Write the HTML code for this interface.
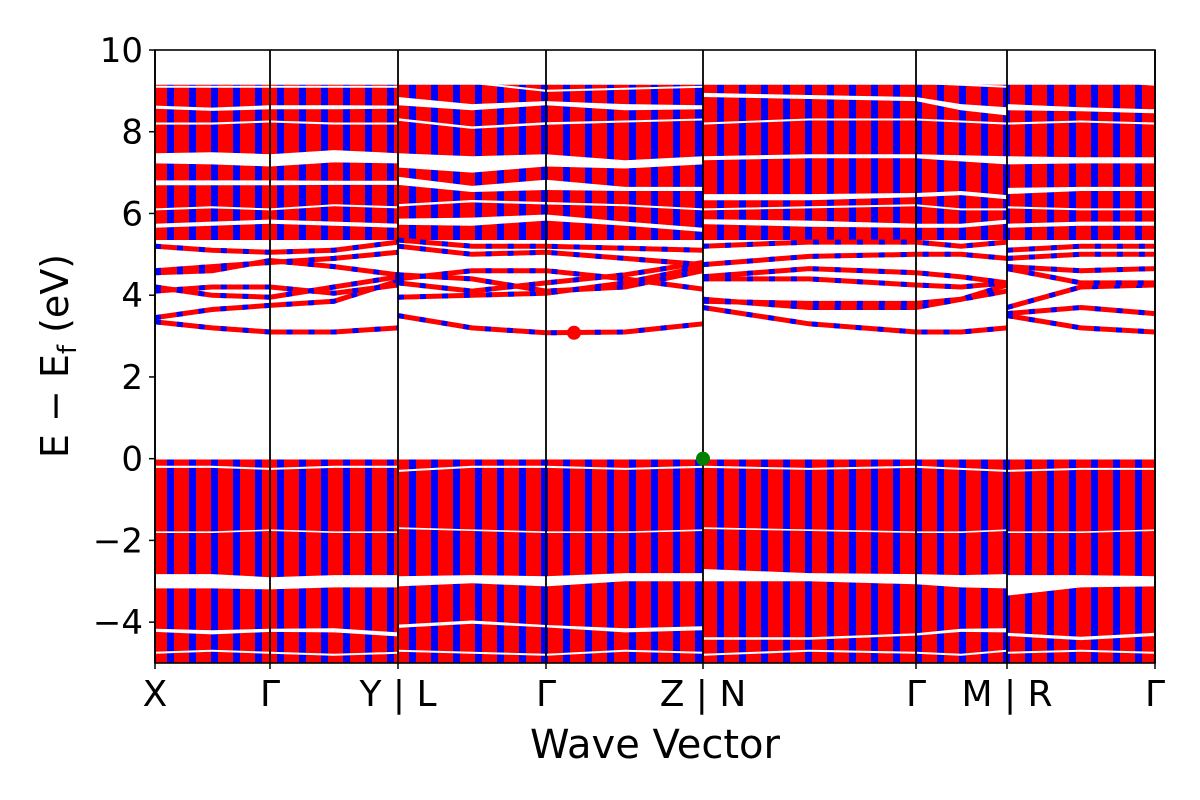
<!DOCTYPE html>
<html><head><meta charset="utf-8"><style>
html,body{margin:0;padding:0;background:#fff;width:1200px;height:800px;overflow:hidden}
svg text{font-family:"DejaVu Sans","Liberation Sans",sans-serif;fill:#000}
</style></head><body>
<svg id="chart" width="1200" height="800" viewBox="0 0 1200 800" xmlns="http://www.w3.org/2000/svg">
<defs>
<pattern id="stripes" patternUnits="userSpaceOnUse" x="155" y="0" width="22" height="10">
<rect x="0" y="0" width="22" height="10" fill="#ff0000"/>
<rect x="12" y="0" width="7" height="10" fill="#0000ff"/>
</pattern>
<clipPath id="plotclip"><rect x="155" y="50" width="1000" height="613"/></clipPath>
</defs>
<g id="plot" clip-path="url(#plotclip)"></g>
<g id="axes"></g>
</svg>
<script>
// ---- data ----
const tickLabels = ["X","Γ","Y | L","Γ","Z | N","Γ","M | R","Γ"];
const tickK = [0,115,243,391,548,761,852,1000];
const kSamples = [0,57,115,179,243, 243,317,391,470,548, 548,654,761,806,852, 852,926,1000];
const segStarts = [0,5,10,15];
const yTicks = [-4,-2,0,2,4,6,8,10];
const denseBlocks = [[-5,-0.02],[5.35,9.15]];
const bands = [
 [3.35,3.2,3.1,3.1,3.2, 3.5,3.2,3.08,3.1,3.3, 3.7,3.3,3.1,3.1,3.2, 3.5,3.2,3.1],
 [3.45,3.65,3.75,3.85,4.35, 3.95,4.0,4.05,4.3,4.7, 3.85,3.8,3.8,3.9,4.1, 3.55,3.7,3.55],
 [4.1,4.2,4.2,4.05,4.25, 4.3,4.1,4.3,4.5,4.8, 3.9,3.7,3.7,3.9,4.25, 3.7,4.2,4.25],
 [4.2,4.0,3.95,4.2,4.45, 4.5,4.4,4.1,4.2,4.6, 4.4,4.4,4.25,4.2,4.3, 4.65,4.3,4.3],
 [4.55,4.6,4.85,4.7,4.5, 4.4,4.6,4.6,4.4,4.15, 4.45,4.65,4.55,4.45,4.3, 4.7,4.6,4.65],
 [4.6,4.7,4.8,4.9,5.05, 5.2,5.0,5.05,4.9,4.75, 4.75,4.95,5.0,5.0,4.9, 4.9,5.0,5.0],
 [5.2,5.1,5.05,5.1,5.3, 5.35,5.2,5.2,5.15,5.1, 5.2,5.3,5.3,5.2,5.3, 5.1,5.2,5.2]
];
const gaps = [
 {e:[7.35,7.35,7.3,7.4,7.35, 7.3,7.2,7.3,7.2,7.3, 7.35,7.4,7.4,7.35,7.3, 7.3,7.3,7.3], w:[0.25,0.3,0.3,0.3,0.25, 0.35,0.4,0.3,0.2,0.2, 0.1,0.1,0.1,0.15,0.2, 0.2,0.15,0.15]},
 {e:[6.75,6.75,6.75,6.75,6.75, 6.8,6.6,6.7,6.6,6.6, 6.4,6.4,6.45,6.5,6.4, 6.55,6.6,6.6], w:[0.12,0.12,0.12,0.1,0.1, 0.2,0.15,0.25,0.1,0.1, 0.15,0.15,0.1,0.1,0.1, 0.15,0.1,0.1]},
 {e:[5.7,5.75,5.8,5.75,5.7, 5.8,5.8,5.9,5.75,5.6, 5.8,5.75,5.7,5.7,5.8, 5.7,5.75,5.75], w:[0.1,0.1,0.1,0.1,0.1, 0.15,0.2,0.15,0.1,0.1, 0.12,0.15,0.1,0.1,0.1, 0.1,0.1,0.1]},
 {e:[8.6,8.55,8.6,8.6,8.6, 8.75,8.6,8.7,8.6,8.6, 8.9,8.85,8.8,8.6,8.5, 8.6,8.55,8.5], w:[0.08,0.08,0.1,0.1,0.08, 0.2,0.15,0.1,0.15,0.1, 0.1,0.1,0.1,0.15,0.2, 0.15,0.1,0.1]},
 {e:[9.1,9.1,9.1,9.1,9.1, 9.28,9.2,9.0,9.05,9.1, 9.2,9.2,9.2,9.15,9.1, 9.2,9.28,9.15], w:[0.05,0.05,0.05,0.05,0.05, 0.05,0.05,0.05,0.05,0.05, 0.05,0.05,0.05,0.05,0.05, 0.05,0.05,0.05]},
 {e:[6.1,6.15,6.1,6.2,6.15, 6.2,6.3,6.25,6.2,6.1, 6.1,6.15,6.2,6.1,6.1, 6.15,6.1,6.1], w:[0.05,0.05,0.05,0.05,0.05, 0.06,0.06,0.06,0.05,0.05, 0.05,0.05,0.05,0.05,0.05, 0.05,0.05,0.05]},
 {e:[8.2,8.2,8.25,8.2,8.2, 8.3,8.1,8.2,8.25,8.3, 8.2,8.3,8.3,8.25,8.2, 8.2,8.25,8.2], w:[0.05,0.05,0.05,0.05,0.05, 0.06,0.06,0.06,0.05,0.05, 0.05,0.05,0.05,0.05,0.05, 0.05,0.05,0.05]},
 {e:[-3.0,-3.0,-3.05,-3.0,-3.0, -3.0,-2.95,-3.0,-2.9,-2.9, -2.85,-2.9,-2.95,-3.0,-3.0, -3.1,-3.0,-3.0], w:[0.35,0.35,0.3,0.3,0.3, 0.25,0.2,0.25,0.2,0.2, 0.3,0.2,0.25,0.3,0.35, 0.5,0.3,0.25]},
 {e:[-4.2,-4.25,-4.2,-4.2,-4.3, -4.1,-4.0,-4.1,-4.2,-4.15, -4.4,-4.4,-4.3,-4.2,-4.2, -4.3,-4.4,-4.3], w:[0.08,0.1,0.08,0.1,0.1, 0.08,0.08,0.06,0.1,0.1, 0.06,0.06,0.06,0.08,0.1, 0.08,0.08,0.08]},
 {e:[-4.75,-4.7,-4.75,-4.8,-4.75, -4.7,-4.75,-4.8,-4.7,-4.75, -4.8,-4.7,-4.75,-4.8,-4.7, -4.75,-4.7,-4.75], w:[0.05,0.05,0.05,0.05,0.05, 0.05,0.05,0.05,0.05,0.05, 0.05,0.05,0.05,0.05,0.05, 0.05,0.05,0.05]},
 {e:[-1.8,-1.8,-1.75,-1.8,-1.8, -1.7,-1.75,-1.8,-1.8,-1.75, -1.7,-1.75,-1.8,-1.8,-1.75, -1.8,-1.8,-1.75], w:[0.04,0.04,0.04,0.04,0.04, 0.04,0.04,0.04,0.04,0.04, 0.04,0.04,0.04,0.04,0.04, 0.04,0.04,0.04]},
 {e:[-0.2,-0.2,-0.25,-0.2,-0.2, -0.3,-0.2,-0.2,-0.25,-0.2, -0.2,-0.25,-0.2,-0.25,-0.3, -0.3,-0.25,-0.25], w:[0.05,0.05,0.05,0.05,0.05, 0.05,0.05,0.05,0.05,0.05, 0.05,0.05,0.05,0.05,0.05, 0.05,0.05,0.05]}
];
const cbmPoint = [419, 3.08];
const vbmPoint = [548, 0.0];
// ---- scales ----
const X0=155,X1=1155,Y0=663,Y1=50,EMIN=-5,EMAX=10;
const sx=k=>X0+(k/1000)*(X1-X0);
const sy=e=>Y0-(e-EMIN)/(EMAX-EMIN)*(Y0-Y1);
const NS="http://www.w3.org/2000/svg";
const plot=document.getElementById('plot'), axes=document.getElementById('axes');
function mk(tag,attrs,parent){const el=document.createElementNS(NS,tag);for(const a in attrs)el.setAttribute(a,attrs[a]);parent.appendChild(el);return el;}
function segPaths(vals){const out=[];for(let s=0;s<segStarts.length;s++){const a=segStarts[s],b=(s+1<segStarts.length?segStarts[s+1]:kSamples.length);let d='';for(let i=a;i<b;i++)d+=(i===a?'M':'L')+sx(kSamples[i]).toFixed(1)+' '+sy(vals[i]).toFixed(1);out.push(d);}return out;}
denseBlocks.forEach((b,i)=>{
 const r=mk('rect',{x:X0,y:sy(b[1]),width:X1-X0,height:sy(b[0])-sy(b[1]),fill:'url(#stripes)'},plot);
 
 
});
gaps.forEach((g,gi)=>{
 for(let s=0;s<segStarts.length;s++){const a=segStarts[s],b=(s+1<segStarts.length?segStarts[s+1]:kSamples.length);
  let top='',bot='';
  for(let i=a;i<b;i++){top+=(i===a?'M':'L')+sx(kSamples[i]).toFixed(1)+' '+sy(g.e[i]+g.w[i]/2).toFixed(1);}
  for(let i=b-1;i>=a;i--){bot+='L'+sx(kSamples[i]).toFixed(1)+' '+sy(g.e[i]-g.w[i]/2).toFixed(1);}
  const p=mk('path',{d:top+bot+'Z',fill:'#fff'},plot);
  
  
 }
});
bands.forEach((b,bi)=>{
 segPaths(b).forEach(d=>{
  const p1=mk('path',{d:d,fill:'none',stroke:'#ff0000','stroke-width':5},plot);
  
  
  const p2=mk('path',{d:d,fill:'none',stroke:'#0000ff','stroke-width':5,'stroke-dasharray':'6 16'},plot);
  
  
 });
});
tickK.forEach(k=>{const l=mk('line',{x1:sx(k),x2:sx(k),y1:Y1,y2:Y0,stroke:'#000','stroke-width':1.8},axes);
 
 });
const c1=mk('circle',{cx:sx(cbmPoint[0]),cy:sy(cbmPoint[1]),r:7,fill:'#ff0000'},axes);


const c2=mk('circle',{cx:sx(vbmPoint[0]),cy:sy(vbmPoint[1]),r:7,fill:'#008000'},axes);


const fr=mk('rect',{x:X0,y:Y1,width:X1-X0,height:Y0-Y1,fill:'none',stroke:'#000','stroke-width':1.6},axes);


yTicks.forEach(v=>{
 const t=mk('line',{x1:X0-6,x2:X0,y1:sy(v),y2:sy(v),stroke:'#000','stroke-width':1.5},axes);
 
 
 const tx=mk('text',{x:X0-12,y:sy(v)+12,'text-anchor':'end','font-size':34},axes);
 tx.textContent=(v<0?'\u2212'+(-v):String(v));
 
 
});
tickK.forEach((k,i)=>{
 const t=mk('line',{x1:sx(k),x2:sx(k),y1:Y0,y2:Y0+6,stroke:'#000','stroke-width':1.5},axes);
 
 
 const tx=mk('text',{x:sx(k),y:706,'text-anchor':'middle','font-size':36},axes);
 tx.textContent=tickLabels[i];
 
 
});
</script>
<svg style="position:absolute;left:0;top:0" width="1200" height="800">
<text x="655" y="758" text-anchor="middle" font-size="40" style="font-family:'DejaVu Sans','Liberation Sans',sans-serif">Wave Vector</text>
<text transform="translate(68,356) rotate(-90)" text-anchor="middle" font-size="38" style="font-family:'DejaVu Sans','Liberation Sans',sans-serif">E − E<tspan font-size="26" dy="8">f</tspan><tspan dy="-8"> (eV)</tspan></text>
</svg>
</body></html>
